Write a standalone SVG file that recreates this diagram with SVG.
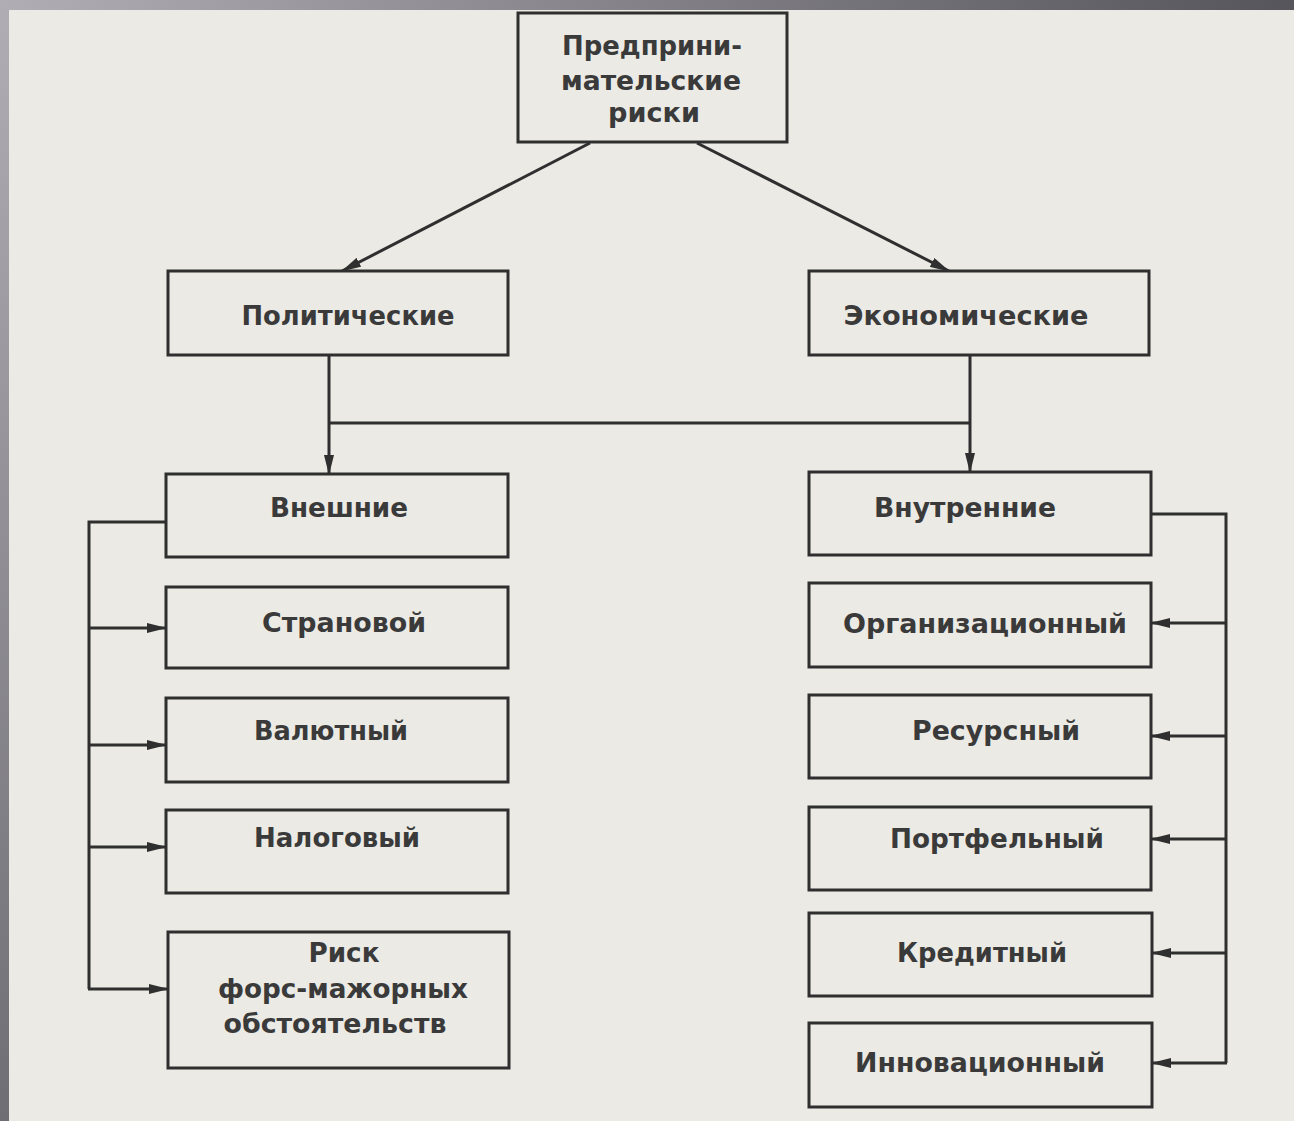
<svg xmlns="http://www.w3.org/2000/svg" width="1294" height="1121" viewBox="0 0 1294 1121">
<style>
.box{fill:none;stroke:#2f2f2f;stroke-width:3}
.lbl{font-family:"DejaVu Sans","Liberation Sans",sans-serif;font-weight:bold;font-size:26px;fill:#3a3a3a}
.con{fill:none;stroke:#2f2f2f;stroke-width:3}
</style>
<defs>
<linearGradient id="gTop" x1="0" y1="0" x2="1" y2="0">
<stop offset="0" stop-color="#b0adb5"/>
<stop offset="1" stop-color="#57555c"/>
</linearGradient>
<linearGradient id="gLeft" x1="0" y1="0" x2="0" y2="1">
<stop offset="0" stop-color="#b0adb5"/>
<stop offset="1" stop-color="#706e75"/>
</linearGradient>
<marker id="arr" viewBox="0 0 20 10" refX="19" refY="5" markerWidth="20" markerHeight="10" markerUnits="userSpaceOnUse" orient="auto">
<path d="M0,0 L20,5 L0,10 Z" fill="#2f2f2f"/>
</marker>
</defs>
<rect x="0" y="0" width="1294" height="1121" fill="url(#gLeft)"/>
<rect x="0" y="0" width="1294" height="10" fill="url(#gTop)"/>
<rect x="9" y="10" width="1285" height="1111" fill="#ebeae5"/>

<g id="connectors">
<line class="con" x1="590" y1="143" x2="342" y2="271" marker-end="url(#arr)"/>
<line class="con" x1="697" y1="143" x2="949" y2="271" marker-end="url(#arr)"/>
<line class="con" x1="329" y1="355" x2="329" y2="474" marker-end="url(#arr)"/>
<line class="con" x1="970" y1="355" x2="970" y2="472" marker-end="url(#arr)"/>
<line class="con" x1="329" y1="423" x2="970" y2="423"/>
<polyline class="con" points="166,522 89,522 89,989"/>
<line class="con" x1="89" y1="628" x2="166" y2="628" marker-end="url(#arr)"/>
<line class="con" x1="89" y1="745" x2="166" y2="745" marker-end="url(#arr)"/>
<line class="con" x1="89" y1="847" x2="166" y2="847" marker-end="url(#arr)"/>
<line class="con" x1="88" y1="989" x2="168" y2="989" marker-end="url(#arr)"/>
<polyline class="con" points="1151,514 1226,514 1226,1063"/>
<line class="con" x1="1226" y1="623" x2="1151" y2="623" marker-end="url(#arr)"/>
<line class="con" x1="1226" y1="736" x2="1151" y2="736" marker-end="url(#arr)"/>
<line class="con" x1="1226" y1="839" x2="1151" y2="839" marker-end="url(#arr)"/>
<line class="con" x1="1226" y1="953" x2="1152" y2="953" marker-end="url(#arr)"/>
<line class="con" x1="1227" y1="1063" x2="1152" y2="1063" marker-end="url(#arr)"/>
</g>

<g id="node-root">
<rect class="box" x="518" y="13" width="269" height="129"/>
<text class="lbl" x="652" y="55" text-anchor="middle" textLength="180" lengthAdjust="spacingAndGlyphs">Предприни-</text>
<text class="lbl" x="651" y="90" text-anchor="middle" textLength="180" lengthAdjust="spacingAndGlyphs">мательские</text>
<text class="lbl" x="654" y="122" text-anchor="middle" textLength="92" lengthAdjust="spacingAndGlyphs">риски</text>
</g>
<g id="node-political">
<rect class="box" x="168" y="271" width="340" height="84"/>
<text class="lbl" x="348" y="325" text-anchor="middle" textLength="213" lengthAdjust="spacingAndGlyphs">Политические</text>
</g>
<g id="node-economic">
<rect class="box" x="809" y="271" width="340" height="84"/>
<text class="lbl" x="966" y="325" text-anchor="middle" textLength="245" lengthAdjust="spacingAndGlyphs">Экономические</text>
</g>
<g id="node-external">
<rect class="box" x="166" y="474" width="342" height="83"/>
<text class="lbl" x="339" y="517" text-anchor="middle" textLength="138" lengthAdjust="spacingAndGlyphs">Внешние</text>
</g>
<g id="node-country">
<rect class="box" x="166" y="587" width="342" height="81"/>
<text class="lbl" x="344" y="632" text-anchor="middle" textLength="164" lengthAdjust="spacingAndGlyphs">Страновой</text>
</g>
<g id="node-currency">
<rect class="box" x="166" y="698" width="342" height="84"/>
<text class="lbl" x="331" y="740" text-anchor="middle" textLength="154" lengthAdjust="spacingAndGlyphs">Валютный</text>
</g>
<g id="node-tax">
<rect class="box" x="166" y="810" width="342" height="83"/>
<text class="lbl" x="337" y="847" text-anchor="middle" textLength="166" lengthAdjust="spacingAndGlyphs">Налоговый</text>
</g>
<g id="node-force-majeure">
<rect class="box" x="168" y="932" width="341" height="136"/>
<text class="lbl" x="344" y="962" text-anchor="middle" textLength="71" lengthAdjust="spacingAndGlyphs">Риск</text>
<text class="lbl" x="343" y="998" text-anchor="middle" textLength="250" lengthAdjust="spacingAndGlyphs">форс-мажорных</text>
<text class="lbl" x="335" y="1033" text-anchor="middle" textLength="223" lengthAdjust="spacingAndGlyphs">обстоятельств</text>
</g>
<g id="node-internal">
<rect class="box" x="809" y="472" width="342" height="83"/>
<text class="lbl" x="965" y="517" text-anchor="middle" textLength="182" lengthAdjust="spacingAndGlyphs">Внутренние</text>
</g>
<g id="node-organizational">
<rect class="box" x="809" y="583" width="342" height="84"/>
<text class="lbl" x="985" y="633" text-anchor="middle" textLength="284" lengthAdjust="spacingAndGlyphs">Организационный</text>
</g>
<g id="node-resource">
<rect class="box" x="809" y="695" width="342" height="83"/>
<text class="lbl" x="996" y="740" text-anchor="middle" textLength="168" lengthAdjust="spacingAndGlyphs">Ресурсный</text>
</g>
<g id="node-portfolio">
<rect class="box" x="809" y="807" width="342" height="83"/>
<text class="lbl" x="997" y="848" text-anchor="middle" textLength="214" lengthAdjust="spacingAndGlyphs">Портфельный</text>
</g>
<g id="node-credit">
<rect class="box" x="809" y="913" width="343" height="83"/>
<text class="lbl" x="982" y="962" text-anchor="middle" textLength="170" lengthAdjust="spacingAndGlyphs">Кредитный</text>
</g>
<g id="node-innovation">
<rect class="box" x="809" y="1023" width="343" height="84"/>
<text class="lbl" x="980" y="1072" text-anchor="middle" textLength="250" lengthAdjust="spacingAndGlyphs">Инновационный</text>
</g>
</svg>
